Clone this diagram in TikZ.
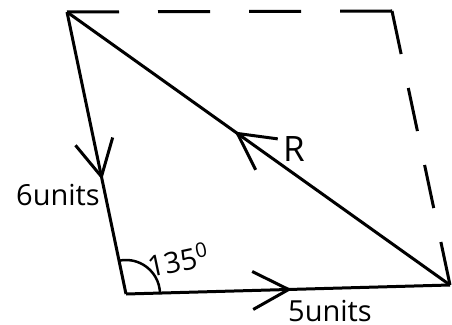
\documentclass[tikz,border=0pt]{standalone}
\usepackage{fontspec}
\setmainfont{Open Sans}
\usetikzlibrary{arrows.meta, decorations.markings}

\begin{document}
\begin{tikzpicture}[
  x=1pt, y=1pt,
  every node/.style={inner sep=0pt, text=black},
  side/.style={line width=3pt, line join=miter},
  ghost/.style={line width=3pt},
  midarrow/.style={postaction={decorate}, decoration={markings,
    mark=at position #1 with {\arrow{Straight Barb[length=36pt, width=38pt, line width=3pt]}}}},
  unitlabel/.style={font=\fontsize{29}{34}\selectfont},
  resultlabel/.style={font=\fontsize{35}{40}\selectfont}
]
\useasboundingbox (0,0) rectangle (452,324);

% corners of the vector triangle
\coordinate (A) at (67,312);
\coordinate (B) at (126,30);
\coordinate (C) at (450,39);
\coordinate (D) at (392,313);

% completing the parallelogram
\draw[ghost, dash pattern=on 52pt off 39pt] (D) -- (A);
\draw[ghost, dash pattern=on 44pt off 34.7pt] (D) -- (C);

% the three sides
\draw[side, midarrow=0.595] (A) -- (B);
\draw[side, midarrow=0.512] (B) -- (C);
\draw[side, midarrow=0.562] (C) -- (A);

% angle at B
\draw[line width=2.5pt] ([xshift=34pt] B) arc[start angle=0, end angle=102, radius=34];

% labels
\node[unitlabel, anchor=base east] (lab6) at (100,118) {6units};
\node[unitlabel, anchor=base west] (lab5) at (288,3) {5units};
\node[resultlabel, anchor=base west] (labR) at (283,162) {R};
\node[unitlabel, anchor=base west, rotate=12] (labang) at (150,46) {135\textsuperscript{0}};

\end{tikzpicture}
\end{document}
